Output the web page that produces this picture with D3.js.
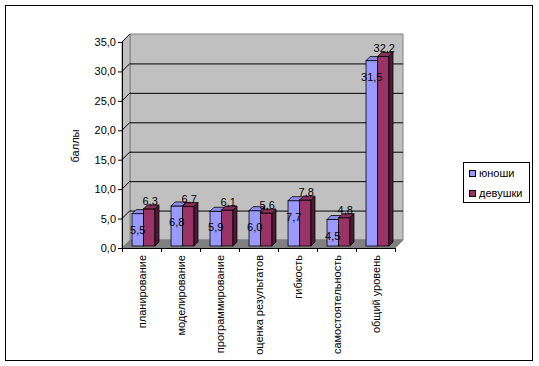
<!DOCTYPE html>
<html>
<head>
<meta charset="utf-8">
<script src="https://cdn.jsdelivr.net/npm/d3@7"></script>
<style>
  body { margin: 0; background: #fff; }
  text { font-family: "Liberation Sans", Arial, sans-serif; font-size: 11px; fill: #000; }
</style>
</head>
<body>
<svg id="chart" width="539" height="366"></svg>
<script>
// data
const categories = ['планирование', 'моделирование', 'программирование', 'оценка результатов', 'гибкость', 'самостоятельность', 'общий уровень'];
const boys = [5.5, 6.8, 5.9, 6.0, 7.7, 4.5, 31.5];
const girls = [6.3, 6.7, 6.1, 5.6, 7.8, 4.8, 32.2];
const seriesNames = ['юноши', 'девушки'];
const yTicks = [0, 5, 10, 15, 20, 25, 30, 35];

const svg = d3.select('#chart');
const fmt = v => d3.format('.1f')(v).replace('.', ',');

// outer frame
svg.append('rect').attr('x', 5.5).attr('y', 5.5).attr('width', 527).attr('height', 355)
    .attr('fill', '#fff').attr('stroke', '#000');

let x0 = 122, x1 = 395, D = 8;
let y = d3.scaleLinear().domain([0, 35]).range([248, 42]);
let x = d3.scaleBand().domain(categories).range([x0, x1]);
let xs = d3.scaleBand().domain(seriesNames).range([0, x.bandwidth()]).paddingOuter(0.7);

let y0 = y(0), yT = y(35);
const poly = pts => 'M' + pts.map(p => p.join(',')).join('L') + 'Z';

// walls
svg.append('path').attr('d', poly([[x0 + D, yT - D], [x1 + D, yT - D], [x1 + D, y0 - D], [x0 + D, y0 - D]]))
    .attr('fill', '#c0c0c0').attr('stroke', '#808080');
svg.append('path').attr('d', poly([[x0, yT], [x0 + D, yT - D], [x0 + D, y0 - D], [x0, y0]]))
    .attr('fill', '#c0c0c0').attr('stroke', '#808080');
svg.append('path').attr('d', poly([[x0, y0], [x1, y0], [x1 + D, y0 - D], [x0 + D, y0 - D]]))
    .attr('fill', '#808080').attr('stroke', '#808080');

// gridlines
svg.selectAll('.grid').data(yTicks.filter(t => t > 0 && t < 35)).join('line')
    .attr('x1', x0 + D).attr('x2', x1 + D)
    .attr('y1', d => y(d) - D + 0.5).attr('y2', d => y(d) - D + 0.5)
    .attr('stroke', '#000');
svg.selectAll('.diag').data(yTicks.filter(t => t > 0)).join('line')
    .attr('x1', x0).attr('y1', d => y(d))
    .attr('x2', x0 + D).attr('y2', d => y(d) - D)
    .attr('stroke', '#000');

// bars
const dz = 2, bd = 4;
const colors = {
    'юноши': { front: '#9999ff', top: '#8c8ce8', side: '#50508a' },
    'девушки': { front: '#993366', top: '#86305a', side: '#4d1a33' }
};
categories.forEach((c, i) => {
    [boys[i], girls[i]].forEach((v, j) => {
        let s = seriesNames[j];
        let bx = x(c) + xs(s) + dz, w = xs.bandwidth();
        let yt = y(v) - dz, yb = y0 - dz;
        let g = svg.append('g');
        g.append('rect').attr('x', bx).attr('y', yt).attr('width', w).attr('height', yb - yt)
            .attr('fill', colors[s].front).attr('stroke', '#000').attr('stroke-width', 0.8);
        g.append('path').attr('d', poly([[bx, yt], [bx + w, yt], [bx + w + bd, yt - bd], [bx + bd, yt - bd]]))
            .attr('fill', colors[s].top).attr('stroke', '#000').attr('stroke-width', 0.8);
        g.append('path').attr('d', poly([[bx + w, yt], [bx + w + bd, yt - bd], [bx + w + bd, yb - bd], [bx + w, yb]]))
            .attr('fill', colors[s].side).attr('stroke', '#000').attr('stroke-width', 0.8);
    });
});

// value labels
categories.forEach((c, i) => {
    let w = xs.bandwidth();
    svg.append('text')
        .attr('x', x(c) + xs('юноши') + dz + w / 2)
        .attr('y', y(boys[i]) + 18)
        .attr('text-anchor', 'middle')
        .text(fmt(boys[i]));
    svg.append('text')
        .attr('x', x(c) + xs('девушки') + dz + w / 2 + 1)
        .attr('y', y(girls[i]) - 6)
        .attr('text-anchor', 'middle')
        .text(fmt(girls[i]));
});

// y axis
svg.append('line').attr('x1', x0 + 0.5).attr('x2', x0 + 0.5).attr('y1', yT).attr('y2', y0).attr('stroke', '#000');
svg.selectAll('.ytick').data(yTicks).join('line')
    .attr('x1', x0 - 4).attr('x2', x0).attr('y1', d => y(d) + 0.5).attr('y2', d => y(d) + 0.5)
    .attr('stroke', '#000');
svg.selectAll('.ylab').data(yTicks).join('text')
    .attr('x', x0 - 6).attr('y', d => y(d) + 4)
    .attr('text-anchor', 'end')
    .text(d => fmt(d));

svg.append('text')
    .attr('transform', 'translate(79,146) rotate(-90)')
    .attr('text-anchor', 'middle')
    .text('баллы');

// x axis
svg.append('line').attr('x1', x0).attr('x2', x1).attr('y1', y0 + 0.5).attr('y2', y0 + 0.5).attr('stroke', '#000');
svg.selectAll('.xtick').data(categories.concat(['end'])).join('line')
    .attr('x1', (d, i) => x0 + i * x.step() + 0.5).attr('x2', (d, i) => x0 + i * x.step() + 0.5)
    .attr('y1', y0).attr('y2', y0 + 4).attr('stroke', '#000');
svg.selectAll('.xlab').data(categories).join('text')
    .attr('transform', d => `translate(${x(d) + x.bandwidth() / 2 + 4},255) rotate(-90)`)
    .attr('text-anchor', 'end')
    .text(d => d);

// legend
let lg = svg.append('g').attr('transform', 'translate(463,162)');
lg.append('rect').attr('x', 0.5).attr('y', 0.5).attr('width', 66).attr('height', 40)
    .attr('fill', '#fff').attr('stroke', '#000');
seriesNames.forEach((s, i) => {
    lg.append('rect').attr('x', 6.5).attr('y', 8.5 + i * 20).attr('width', 6).attr('height', 6)
        .attr('fill', colors[s].front).attr('stroke', '#000');
    lg.append('text').attr('x', 16).attr('y', 15 + i * 20).text(s);
});
</script>
</body>
</html>
